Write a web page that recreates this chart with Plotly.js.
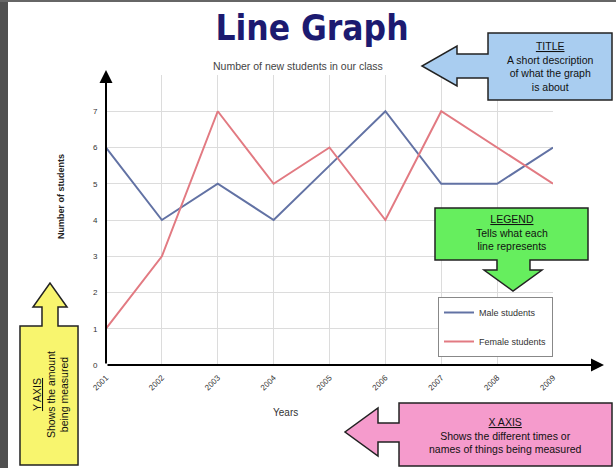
<!DOCTYPE html>
<html>
<head>
<meta charset="utf-8">
<script src="https://cdn.plot.ly/plotly-3.0.1.min.js"></script>
<style>html,body{margin:0;padding:0;background:#fff;}#chart{width:616px;height:468px;}</style>
</head>
<body>
<div id="chart"></div>
<script>
// ---- data ----
const years = ["2001", "2002", "2003", "2004", "2005", "2006", "2007", "2008", "2009"];
const maleStudents = [6, 4, 5, 4, 5.5, 7, 5, 5, 6];
const femaleStudents = [1, 3, 7, 5, 6, 4, 7, 6, 5];
const seriesNames = ["Male students", "Female students"];
const yTickVals = [0, 1, 2, 3, 4, 5, 6, 7, 8];
const yTickText = ["0", "1", "2", "3", "4", "5", "6", "7", ""];
const chartTitle = "Line Graph";
const chartSubtitle = "Number of new students in our class";
const xTitle = "Years";
const yTitle = "Number of students";

// ---- layout helpers (pixel -> paper) ----
const L = 106, R = 553, T = 75, B = 365;
const X = px => (px - L) / (R - L);
const Y = py => (B - py) / (B - T);
function path(pts) {
  return "M" + pts.map(p => X(p[0]).toFixed(4) + "," + Y(p[1]).toFixed(4)).join(" L") + " Z";
}

const traces = [
  {x: years, y: maleStudents, name: seriesNames[0], type: "scatter", mode: "lines",
   line: {color: "#6272a4", width: 2}, legendgroup: "a"},
  {x: years, y: femaleStudents, name: seriesNames[1], type: "scatter", mode: "lines",
   line: {color: "#e27a82", width: 2}, legendgroup: "b"}
];

const calloutFont = {family: "Liberation Sans, Arial, sans-serif", size: 10.5, color: "#111"};

const layout = {
  width: 616, height: 468,
  margin: {l: L, r: 616 - R, t: T, b: 468 - B},
  paper_bgcolor: "#ffffff", plot_bgcolor: "#ffffff",
  showlegend: true,
  title: {text: chartTitle, x: 312 / 616, xanchor: "center", xref: "container",
          y: 1 - 28 / 468, yanchor: "middle", yref: "container",
          font: {family: "DejaVu Sans Condensed, DejaVu Sans, sans-serif", size: 35, weight: "bold", color: "#1c1a70"}},
  xaxis: {type: "category", range: [0, 8], showgrid: true, gridcolor: "#dcdcdc", gridwidth: 1,
          zeroline: false, showline: false, tickangle: -45, ticks: "outside", ticklen: 4,
          tickcolor: "rgba(0,0,0,0)", tickfont: {family: "Liberation Sans, Arial", size: 8, color: "#333"},
          fixedrange: true},
  yaxis: {range: [0, 8], tickvals: yTickVals, ticktext: yTickText, showgrid: true,
          gridcolor: "#dcdcdc", gridwidth: 1, zeroline: false, showline: false,
          ticks: "outside", ticklen: 6, tickcolor: "rgba(0,0,0,0)",
          tickfont: {family: "Liberation Sans, Arial", size: 8, color: "#333"}, fixedrange: true},
  legend: {x: X(438), y: Y(297), xanchor: "left", yanchor: "top", bgcolor: "#fff",
           bordercolor: "#888", borderwidth: 1, traceorder: "grouped", tracegroupgap: 10,
           font: {family: "Liberation Sans, Arial", size: 9, color: "#333"}},
  shapes: [
    // frame strips
    {type: "rect", xref: "paper", yref: "paper", x0: X(0), x1: X(8), y0: Y(0), y1: Y(468), fillcolor: "#505050", line: {width: 0}, layer: "below"},
    {type: "rect", xref: "paper", yref: "paper", x0: X(0), x1: X(616), y0: Y(0), y1: Y(2), fillcolor: "#666", line: {width: 0}, layer: "below"},
    // title callout (blue)
    {type: "path", xref: "paper", yref: "paper", fillcolor: "#a9cdf0", line: {color: "#222", width: 1.5},
     path: path([[612,33],[488,33],[488,54],[457,54],[457,46],[422,66],[457,86],[457,78],[488,78],[488,100],[612,100]])},
    // legend callout (green)
    {type: "path", xref: "paper", yref: "paper", fillcolor: "#66ee5e", line: {color: "#222", width: 1.5},
     path: path([[435,208],[588,208],[588,260],[530,260],[530,270],[542,270],[513,291],[484,270],[497,270],[497,260],[435,260]])},
    // y axis callout (yellow)
    {type: "path", xref: "paper", yref: "paper", fillcolor: "#f8f56e", line: {color: "#222", width: 1.5},
     path: path([[20,465],[78,465],[78,326],[58,326],[58,307],[67,307],[50,283],[33,307],[42,307],[42,326],[20,326]])},
    // x axis callout (pink)
    {type: "path", xref: "paper", yref: "paper", fillcolor: "#f59bcc", line: {color: "#222", width: 1.5},
     path: path([[612,403],[399,403],[399,423],[378,423],[378,408],[345,432],[378,456],[378,442],[399,442],[399,466],[612,466]])}
  ],
  annotations: [
    // axis arrows
    {xref: "paper", yref: "paper", x: X(604), y: 0, ax: L - 604, ay: 0, text: "", showarrow: true,
     arrowhead: 2, arrowsize: 1.3, arrowwidth: 2, arrowcolor: "#000"},
    {xref: "paper", yref: "paper", x: 0, y: Y(70), ax: 0, ay: B - 70, text: "", showarrow: true,
     arrowhead: 2, arrowsize: 1.3, arrowwidth: 2, arrowcolor: "#000"},
    // subtitle
    {xref: "paper", yref: "paper", x: X(298), y: Y(66), text: chartSubtitle, showarrow: false,
     xanchor: "center", yanchor: "middle", font: {family: "Liberation Sans, Arial", size: 10.5, color: "#444"}},
    // axis titles
    {xref: "paper", yref: "paper", x: X(285), y: Y(412), text: xTitle, showarrow: false,
     xanchor: "center", yanchor: "middle", font: {family: "Liberation Sans, Arial", size: 10, color: "#333"}},
    {xref: "paper", yref: "paper", x: X(61), y: Y(197), text: yTitle, showarrow: false, textangle: -90,
     xanchor: "center", yanchor: "middle", font: {family: "Liberation Sans, Arial", size: 9, color: "#222", weight: "bold"}},
    // callout texts
    {xref: "paper", yref: "paper", x: X(550), y: Y(67), text: "<u>TITLE</u><br>A short description<br>of what the graph<br>is about",
     showarrow: false, xanchor: "center", yanchor: "middle", font: calloutFont},
    {xref: "paper", yref: "paper", x: X(512), y: Y(232), text: "<u>LEGEND</u><br>Tells what each<br>line represents",
     showarrow: false, xanchor: "center", yanchor: "middle", font: calloutFont},
    {xref: "paper", yref: "paper", x: X(50), y: Y(395), text: "<u>Y AXIS</u><br>Shows the amount<br>being measured",
     showarrow: false, textangle: -90, xanchor: "center", yanchor: "middle", font: calloutFont},
    {xref: "paper", yref: "paper", x: X(505), y: Y(435), text: "<u>X AXIS</u><br>Shows the different times or<br>names of things being measured",
     showarrow: false, xanchor: "center", yanchor: "middle", font: calloutFont}
  ]
};

Plotly.newPlot("chart", traces, layout, {displayModeBar: false, staticPlot: true});
</script>
</body>
</html>
